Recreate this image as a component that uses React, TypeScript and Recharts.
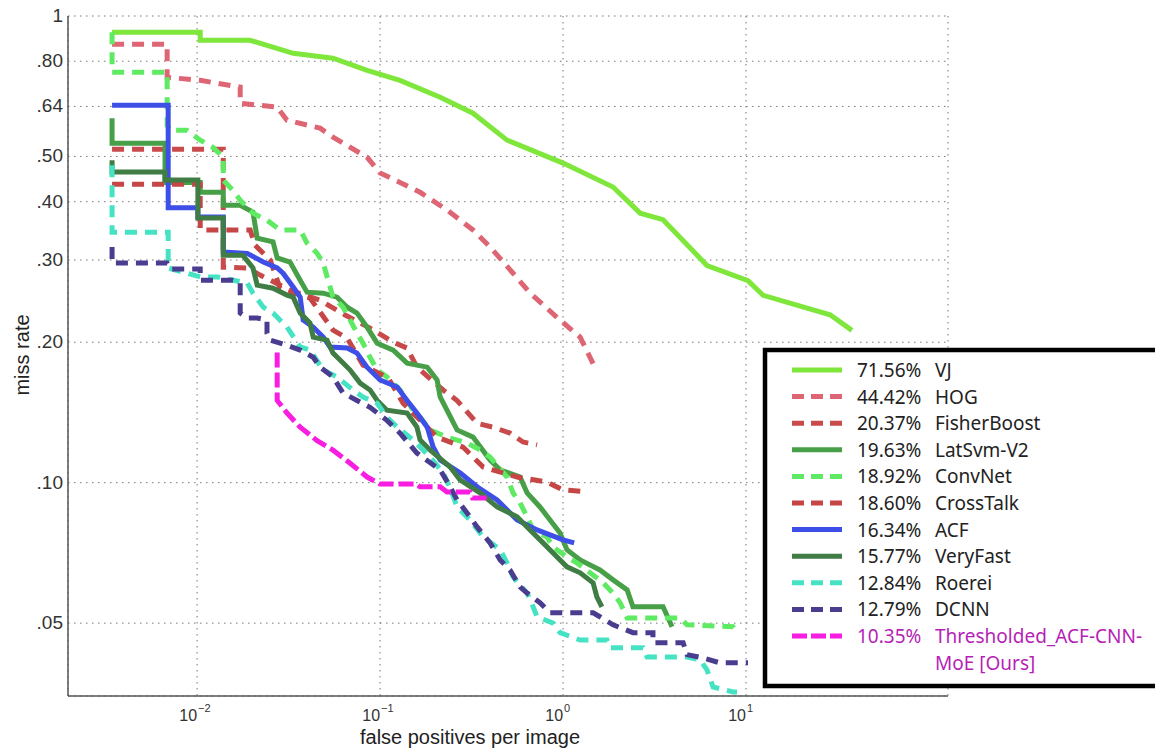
import { LineChart, Line, XAxis, YAxis, CartesianGrid } from "recharts";

// [false positives per image, miss rate]
const vjCurve = [[0.00343,0.923],[0.0104,0.923],[0.0104,0.887],[0.0195,0.887],[0.0335,0.832],[0.0553,0.812],[0.085,0.765],[0.1285,0.728],[0.213,0.67],[0.322,0.619],[0.494,0.542],[1.0,0.484],[1.876,0.43],[2.64,0.378],[3.52,0.366],[6.12,0.292],[10.25,0.271],[12.4,0.252],[28.8,0.229],[37.9,0.212]];
const hogCurve = [[0.00343,0.87],[0.00686,0.87],[0.00686,0.739],[0.0104,0.728],[0.0172,0.704],[0.0172,0.65],[0.0273,0.638],[0.031,0.598],[0.047,0.575],[0.0553,0.55],[0.085,0.498],[0.1,0.461],[0.1285,0.44],[0.1655,0.419],[0.232,0.384],[0.322,0.348],[0.399,0.32],[0.533,0.281],[0.66,0.255],[0.927,0.226],[1.24,0.205],[1.5,0.176]];
const fisherCurve = [[0.00343,0.518],[0.0139,0.518],[0.0139,0.2895],[0.0188,0.2885],[0.0221,0.2785],[0.0322,0.2586],[0.047,0.246],[0.0644,0.2287],[0.0881,0.2144],[0.118,0.2],[0.1405,0.1943],[0.159,0.1768],[0.221,0.158],[0.2635,0.15],[0.339,0.134],[0.414,0.1315],[0.513,0.1277],[0.604,0.1222],[0.721,0.1205]];
const latsvmCurve = [[0.00343,0.604],[0.00343,0.534],[0.00668,0.534],[0.00668,0.44],[0.0104,0.44],[0.0104,0.419],[0.0139,0.419],[0.0139,0.393],[0.0172,0.393],[0.0202,0.38],[0.0213,0.334],[0.026,0.328],[0.0274,0.303],[0.0322,0.297],[0.0366,0.2715],[0.0399,0.256],[0.0489,0.2547],[0.0582,0.2498],[0.0661,0.2377],[0.0748,0.2309],[0.0849,0.2155],[0.0964,0.199],[0.118,0.1923],[0.1405,0.1804],[0.181,0.1768],[0.205,0.166],[0.213,0.1526],[0.2635,0.1297],[0.322,0.1252],[0.399,0.1118],[0.453,0.1065],[0.582,0.1028],[0.636,0.0951],[0.748,0.0887],[0.849,0.0832],[0.963,0.078],[1.05,0.0718],[1.24,0.0683],[1.59,0.065],[1.876,0.0619],[2.24,0.0589],[2.41,0.0542],[3.52,0.0542],[3.94,0.0491]];
const convnetCurve = [[0.00343,0.923],[0.00343,0.758],[0.00686,0.758],[0.00686,0.583],[0.00711,0.569],[0.00881,0.569],[0.0104,0.542],[0.0122,0.523],[0.0139,0.498],[0.0139,0.445],[0.0157,0.423],[0.0172,0.403],[0.0202,0.378],[0.0241,0.365],[0.0284,0.348],[0.0366,0.348],[0.0399,0.326],[0.0453,0.31],[0.0489,0.2955],[0.052,0.2715],[0.0553,0.2498],[0.0628,0.2377],[0.0686,0.2231],[0.0748,0.2091],[0.0807,0.199],[0.0881,0.1857],[0.0964,0.1743],[0.109,0.1684],[0.1285,0.158],[0.1515,0.143],[0.1655,0.1382],[0.1875,0.1297],[0.232,0.1252],[0.299,0.1216],[0.352,0.1175],[0.399,0.1135],[0.494,0.1028],[0.533,0.0951],[0.582,0.0905],[0.636,0.0845],[0.686,0.0792],[0.818,0.0765],[0.882,0.0728],[1.05,0.0693],[1.19,0.0673],[1.405,0.0641],[1.655,0.061],[1.876,0.058],[2.05,0.0553],[2.24,0.0513],[4.36,0.0513],[4.76,0.0496],[8.49,0.0491],[8.93,0.0477]];
const crosstalkCurve = [[0.00343,0.436],[0.0104,0.436],[0.0104,0.348],[0.0195,0.348],[0.0207,0.323],[0.0251,0.3],[0.0284,0.261],[0.0414,0.2486],[0.0553,0.2123],[0.0661,0.204],[0.0807,0.1786],[0.111,0.1675],[0.1336,0.148],[0.205,0.1252],[0.284,0.1192],[0.366,0.108],[0.561,0.1028],[0.818,0.1003],[1.0,0.0965],[1.37,0.0955]];
const acfCurve = [[0.00343,0.644],[0.00695,0.644],[0.00695,0.388],[0.0101,0.388],[0.0101,0.371],[0.0139,0.371],[0.0139,0.312],[0.0188,0.31],[0.023,0.297],[0.0274,0.2885],[0.0295,0.281],[0.0335,0.2625],[0.0366,0.2498],[0.038,0.2231],[0.0431,0.2155],[0.0489,0.205],[0.0533,0.1953],[0.0661,0.1943],[0.0748,0.1895],[0.0849,0.1768],[0.1,0.166],[0.124,0.1603],[0.1405,0.15],[0.159,0.141],[0.181,0.1315],[0.195,0.1192],[0.213,0.1118],[0.2735,0.105],[0.339,0.098],[0.436,0.0918],[0.561,0.0832],[0.721,0.0792],[1.0,0.0754],[1.15,0.0743]];
const veryfastCurve = [[0.00343,0.491],[0.00343,0.463],[0.00668,0.463],[0.00668,0.445],[0.0101,0.445],[0.0101,0.369],[0.0139,0.369],[0.0139,0.307],[0.0178,0.307],[0.0202,0.2885],[0.0213,0.265],[0.026,0.261],[0.031,0.2523],[0.0335,0.2498],[0.0366,0.2309],[0.0414,0.2198],[0.0431,0.205],[0.0513,0.202],[0.0553,0.1895],[0.0628,0.1804],[0.0686,0.1743],[0.0778,0.1634],[0.0881,0.158],[0.0964,0.15],[0.109,0.143],[0.1405,0.141],[0.159,0.1315],[0.1655,0.1234],[0.1875,0.1175],[0.2415,0.108],[0.2735,0.1014],[0.352,0.0951],[0.436,0.0887],[0.561,0.0845],[0.66,0.0792],[0.778,0.0743],[0.882,0.0707],[1.05,0.066],[1.24,0.0641],[1.46,0.061],[1.53,0.0569],[1.63,0.0542]];
const roereiCurve = [[0.00343,0.479],[0.00343,0.344],[0.00695,0.344],[0.00695,0.2885],[0.0104,0.276],[0.0129,0.276],[0.0188,0.2677],[0.0202,0.2547],[0.023,0.2377],[0.026,0.2309],[0.031,0.2155],[0.0366,0.1953],[0.0414,0.1923],[0.0489,0.1743],[0.0582,0.1684],[0.0711,0.158],[0.0807,0.1526],[0.0964,0.148],[0.109,0.1382],[0.124,0.1315],[0.1515,0.1234],[0.1875,0.1135],[0.221,0.105],[0.2415,0.0974],[0.2635,0.0887],[0.31,0.0832],[0.366,0.0765],[0.453,0.0718],[0.494,0.0673],[0.533,0.0628],[0.636,0.058],[0.686,0.0542],[0.721,0.0516],[0.882,0.05],[0.963,0.0477],[1.24,0.046],[1.74,0.046],[1.8,0.0443],[2.735,0.0443],[2.88,0.0423],[4.76,0.0423],[5.61,0.0417],[6.12,0.0397],[6.6,0.0365],[8.49,0.0356],[8.93,0.0356]];
const dcnnCurve = [[0.00343,0.32],[0.00343,0.2955],[0.00686,0.2955],[0.00711,0.287],[0.0104,0.287],[0.0104,0.2715],[0.0157,0.2715],[0.0172,0.2677],[0.0172,0.2309],[0.0188,0.2253],[0.0213,0.2253],[0.0241,0.2231],[0.0241,0.2091],[0.0251,0.202],[0.031,0.197],[0.0366,0.1923],[0.0431,0.1857],[0.047,0.1768],[0.0553,0.1684],[0.0628,0.1556],[0.0748,0.15],[0.0881,0.145],[0.109,0.136],[0.1285,0.1277],[0.159,0.1157],[0.213,0.1065],[0.2415,0.098],[0.2635,0.0918],[0.299,0.0861],[0.339,0.0804],[0.399,0.0743],[0.453,0.0683],[0.513,0.065],[0.582,0.0598],[0.636,0.058],[0.748,0.0553],[0.849,0.0526],[1.46,0.0526],[1.59,0.0516],[1.876,0.0496],[2.41,0.0477],[3.1,0.0477],[3.1,0.0454],[4.53,0.0454],[4.76,0.0428],[5.82,0.0421],[7.21,0.0411],[10.25,0.0411]];
const oursCurve = [[0.0274,0.19],[0.0274,0.15],[0.031,0.141],[0.0366,0.1315],[0.0453,0.123],[0.0553,0.1174],[0.0686,0.11],[0.085,0.1028],[0.1,0.0993],[0.159,0.0993],[0.165,0.098],[0.213,0.098],[0.232,0.0955],[0.31,0.0955],[0.32,0.0927],[0.399,0.0927]];

const methodNames = ["VJ", "HOG", "FisherBoost", "LatSvm-V2", "ConvNet", "CrossTalk", "ACF", "VeryFast", "Roerei", "DCNN", "Thresholded_ACF-CNN-"];
const logAvgMiss = ["71.56%", "44.42%", "20.37%", "19.63%", "18.92%", "18.60%", "16.34%", "15.77%", "12.84%", "12.79%", "10.35%"];
const curves = [vjCurve, hogCurve, fisherCurve, latsvmCurve, convnetCurve, crosstalkCurve, acfCurve, veryfastCurve, roereiCurve, dcnnCurve, oursCurve];

const fppiTicks = [0.01, 0.1, 1, 10];
const missTicks = [0.05, 0.1, 0.2, 0.3, 0.4, 0.5, 0.64, 0.8, 1];
const missTickLabels = [".05", ".10", ".20", ".30", ".40", ".50", ".64", ".80", "1"];

const COLORS = ["#7fe63c", "#de6674", "#c94a4a", "#47a047", "#5fea63", "#c64545", "#3d4fe6", "#3f7d45", "#45e3c3", "#4a3d8f", "#f81de0"];
const DASHES = [undefined, "12 8", "12 8", undefined, "12 8", "12 8", undefined, undefined, "12 8", "12 8", "15 5"];

const series = methodNames.map((name, i) => ({
  name,
  score: logAvgMiss[i],
  color: COLORS[i],
  dash: DASHES[i],
  data: curves[i].map(([x, y]) => ({ x, y })),
}));

const axisFont = "'Liberation Sans', Arial, sans-serif";

function XTick({ x, y, payload }: any) {
  const exp = Math.round(Math.log10(payload.value));
  return (
    <g>
      <text x={x} y={y + 25} textAnchor="end" fontSize={16} fill="#333" fontFamily={axisFont}>10</text>
      <text x={x + 1} y={y + 16} textAnchor="start" fontSize={11} fill="#333" fontFamily={axisFont}>
        {exp === 0 ? "0" : exp > 0 ? String(exp) : "\u2212" + Math.abs(exp)}
      </text>
    </g>
  );
}

function YTick({ x, y, payload }: any) {
  const idx = missTicks.indexOf(payload.value);
  return (
    <text x={x - 5} y={y + 6} textAnchor="end" fontSize={19} fill="#333" fontFamily={axisFont}>
      {missTickLabels[idx]}
    </text>
  );
}

function LegendBox() {
  const rowY = (i: number) => 24 + i * 26.6;
  return (
    <svg width={394} height={345} style={{ position: "absolute", left: 761, top: 346 }}>
      <rect x={4} y={4} width={440} height={336} fill="#fff" stroke="#000" strokeWidth={4.5} />
      {series.map((s, i) => (
        <g key={s.name}>
          <line x1={31} x2={81} y1={rowY(i)} y2={rowY(i)} stroke={s.color} strokeWidth={5} strokeDasharray={s.dash ? (i === 10 ? "15 4" : "12 7") : undefined} />
          <text x={96} y={rowY(i) + 7} fontSize={19} fontFamily="'Noto Sans', sans-serif" fill={i === 10 ? "#b51fb5" : "#222"}>
            {s.score}
            <tspan x={174}>{s.name}</tspan>
          </text>
        </g>
      ))}
      <text x={174} y={rowY(11) + 7} fontSize={19} fontFamily="'Noto Sans', sans-serif" fill="#b51fb5">MoE [Ours]</text>
    </svg>
  );
}

export default function App() {
  return (
    <div style={{ position: "fixed", left: 0, top: 0, width: 1155, height: 749, overflow: "hidden", background: "#fff" }}>
      <LineChart width={1155} height={749} margin={{ top: 16, right: 207, bottom: 0, left: 8 }}>
        <CartesianGrid stroke="#777" strokeDasharray="1.5 4.5" />
        <XAxis
          type="number"
          dataKey="x"
          scale="log"
          domain={[0.00197, 127]}
          allowDataOverflow
          ticks={fppiTicks}
          interval={0}
          height={53}
          tickSize={0}
          tickMargin={0}
          tickLine={false}
          axisLine={{ stroke: "#555", strokeWidth: 1.5 }}
          tick={<XTick />}
        />
        <YAxis
          type="number"
          dataKey="y"
          scale="log"
          domain={[0.0349, 1]}
          allowDataOverflow
          ticks={missTicks}
          interval={0}
          width={60}
          tickSize={0}
          tickMargin={0}
          tickLine={false}
          axisLine={{ stroke: "#555", strokeWidth: 1.5 }}
          tick={<YTick />}
        />
        {series.map((s) => (
          <Line
            key={s.name}
            data={s.data}
            dataKey="y"
            type="linear"
            stroke={s.color}
            strokeWidth={5}
            strokeDasharray={s.dash}
            dot={false}
            activeDot={false}
            isAnimationActive={false}
          />
        ))}
      </LineChart>
      <div
        style={{
          position: "absolute",
          left: 22,
          top: 355,
          transform: "translate(-50%, -50%) rotate(-90deg)",
          fontFamily: axisFont,
          fontSize: 20,
          color: "#222",
          whiteSpace: "nowrap",
        }}
      >
        miss rate
      </div>
      <div
        style={{
          position: "absolute",
          left: 470,
          top: 727,
          transform: "translateX(-50%)",
          fontFamily: axisFont,
          fontSize: 20,
          lineHeight: "21px",
          color: "#222",
          whiteSpace: "nowrap",
        }}
      >
        false positives per image
      </div>
      <LegendBox />
    </div>
  );
}
